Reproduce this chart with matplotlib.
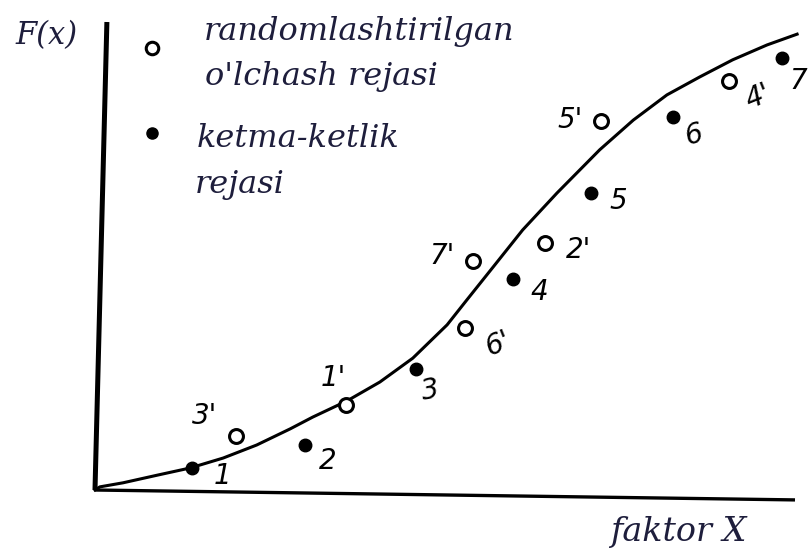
import matplotlib.pyplot as plt
import numpy as np

# smooth F(x) curve (factor X on the horizontal axis)
curve_x = [0, 0.07, 0.4, 0.89, 1.36, 1.83, 2.31, 2.79, 3.11, 3.6, 4.07, 4.54,
           5.03, 5.31, 5.69, 6.11, 6.6, 7.21, 7.69, 8.17, 8.64, 9.11, 9.6, 10.03]
curve_y = [0, 0.007, 0.016, 0.033, 0.049, 0.071, 0.1, 0.136, 0.162, 0.198,
           0.24, 0.293, 0.367, 0.422, 0.496, 0.578, 0.66, 0.756, 0.822, 0.878,
           0.918, 0.956, 0.989, 1.013]

# randomised measurement plan (open circles)
rand_labels = ["3'", "1'", "6'", "7'", "2'", "5'", "4'"]
rand_x = [2.01, 3.59, 5.29, 5.40, 6.43, 7.23, 9.06]
rand_y = [0.12, 0.19, 0.36, 0.51, 0.55, 0.82, 0.91]

# sequential plan (filled dots)
seq_labels = ["1", "2", "3", "4", "5", "6", "7"]
seq_x = [1.39, 3.0, 4.59, 5.97, 7.09, 8.26, 9.81]
seq_y = [0.05, 0.10, 0.27, 0.47, 0.66, 0.83, 0.96]

# label offsets in pixels (dx, dy) and rotation
rand_off = [(-31, 20, 0), (-13, 27, 0), (33, -16, 22), (-31, 5, 0),
            (33, -7, 0), (-31, 1, 0), (29, -16, 22)]
seq_off = [(30, -8, 0), (23, -16, 0), (14, -22, 10), (26, -13, 0),
           (27, -8, 0), (20, -18, 15), (17, -23, 0)]

txt_color = '#1e1e3c'

fig = plt.figure(figsize=(8.09, 5.5), dpi=100)
ax = fig.add_axes([0, 0, 1, 1])
ax.set_xlim(-1.357, 10.2)
ax.set_ylim(-0.1333, 1.0889)
ax.axis('off')

# hand-drawn axes
ax.plot([0, 0.17], [0, 1.04], color='black', lw=3.6, solid_capstyle='butt')
ax.plot([0, 10.0], [0, -0.022], color='black', lw=2.4, solid_capstyle='butt')

ax.plot(curve_x, curve_y, color='black', lw=2.2, solid_joinstyle='round')

ax.plot(rand_x, rand_y, 'o', ms=10, mfc='white', mec='black', mew=2.2)
ax.plot(seq_x, seq_y, 'o', ms=9, mfc='black', mec='black')

lab_font = dict(fontsize=20, fontstyle='oblique', family='DejaVu Sans',
                ha='center', va='center', color='black')
for lab, x, y, (dx, dy, rot) in zip(rand_labels, rand_x, rand_y, rand_off):
    ax.annotate(lab, (x, y), xytext=(dx, dy), textcoords='offset pixels',
                rotation=rot, **lab_font)
for lab, x, y, (dx, dy, rot) in zip(seq_labels, seq_x, seq_y, seq_off):
    ax.annotate(lab, (x, y), xytext=(dx, dy), textcoords='offset pixels',
                rotation=rot, **lab_font)

# legend drawn by hand next to the y axis
ax.plot([0.81], [0.982], 'o', ms=9, mfc='white', mec='black', mew=2.2)
ax.plot([0.81], [0.793], 'o', ms=8, mfc='black', mec='black')

serif = dict(family='DejaVu Serif', fontstyle='italic', fontsize=23,
             color=txt_color, va='baseline', ha='left')
ax.text(1.55, 1.0, "randomlashtirilgan", **serif)
ax.text(1.57, 0.9, "o'lchash rejasi", **serif)
ax.text(1.45, 0.762, "ketma-ketlik", **serif)
ax.text(1.43, 0.66, "rejasi", **serif)

ax.text(-0.69, 1.011, "F(x)", family='DejaVu Serif', fontstyle='italic',
        fontsize=22, color=txt_color, ha='center', va='center')
ax.text(8.33, -0.113, "faktor X", **serif | dict(ha='center', fontsize=24))

fig.savefig('out.png', dpi=100)
